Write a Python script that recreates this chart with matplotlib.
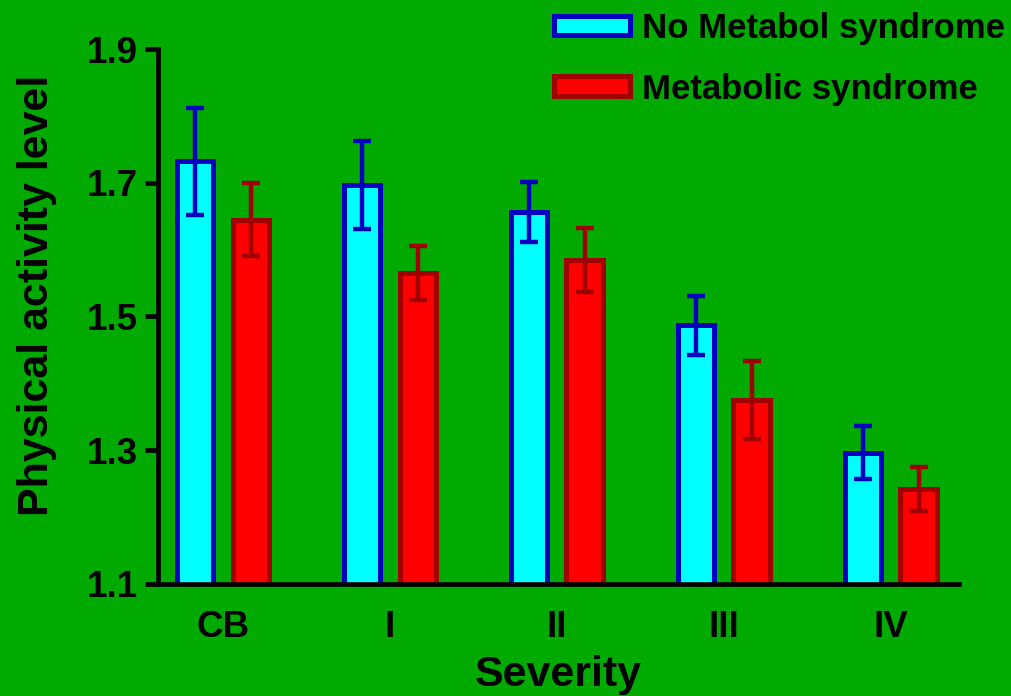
import numpy as np
import matplotlib.pyplot as plt

plt.rcParams['font.family'] = ['Liberation Sans', 'DejaVu Sans']
plt.rcParams['font.weight'] = 'bold'

# mean physical activity level and error by severity group
groups = ['CB', 'I', 'II', 'III', 'IV']
no_mets = [1.732, 1.697, 1.656, 1.487, 1.296]
no_mets_err = [0.080, 0.066, 0.045, 0.044, 0.040]
mets = [1.645, 1.565, 1.584, 1.375, 1.242]
mets_err = [0.055, 0.040, 0.048, 0.059, 0.033]

green = '#00aa00'
x = np.arange(len(groups))
width = 0.219
offset = 0.167

fig = plt.figure(figsize=(10.11, 6.96), dpi=100, facecolor=green)
ax = fig.add_axes([0.1563, 0.1614, 0.7923, 0.7678], facecolor=green)

ax.bar(x - offset, no_mets, width, color='#00ffff', edgecolor='#0000c0',
       linewidth=3.6, label='No Metabol syndrome', zorder=2)
ax.bar(x + offset, mets, width, color='#ff0000', edgecolor='#a00000',
       linewidth=3.6, label='Metabolic syndrome', zorder=2)
ax.errorbar(x - offset, no_mets, yerr=no_mets_err, fmt='none', ecolor='#0000c0',
            elinewidth=3.2, capsize=6.5, capthick=3.2, zorder=3)
ax.errorbar(x + offset, mets, yerr=mets_err, fmt='none', ecolor='#a00000',
            elinewidth=3.2, capsize=6.5, capthick=3.2, zorder=3)

ax.set_xlim(-0.389, 4.409)
ax.set_ylim(1.1, 1.9)
ax.set_yticks([1.1, 1.3, 1.5, 1.7, 1.9])
ax.set_xticks(x)
ax.set_xticklabels(groups)

for side in ['top', 'right']:
    ax.spines[side].set_visible(False)
for side in ['left', 'bottom']:
    ax.spines[side].set_linewidth(3.4)
    ax.spines[side].set_zorder(4)

ax.tick_params(axis='y', length=9.5, width=3.4, pad=5, labelsize=26.5)
ax.tick_params(axis='x', length=0, pad=19, labelsize=26.5)

ax.set_xlabel('Severity', fontsize=31, fontweight='bold', labelpad=7)
ax.set_ylabel('Physical activity level', fontsize=31, fontweight='bold')
ax.yaxis.set_label_coords(-0.1266, 0.54)

fig.legend(loc='upper left', bbox_to_anchor=(0.5475, 0.983), frameon=False,
           fontsize=25, handlelength=2.2, handleheight=0.49, handletextpad=0.35,
           labelspacing=0.8, borderpad=0, borderaxespad=0)

fig.savefig('out.png', dpi=100, facecolor=green)
